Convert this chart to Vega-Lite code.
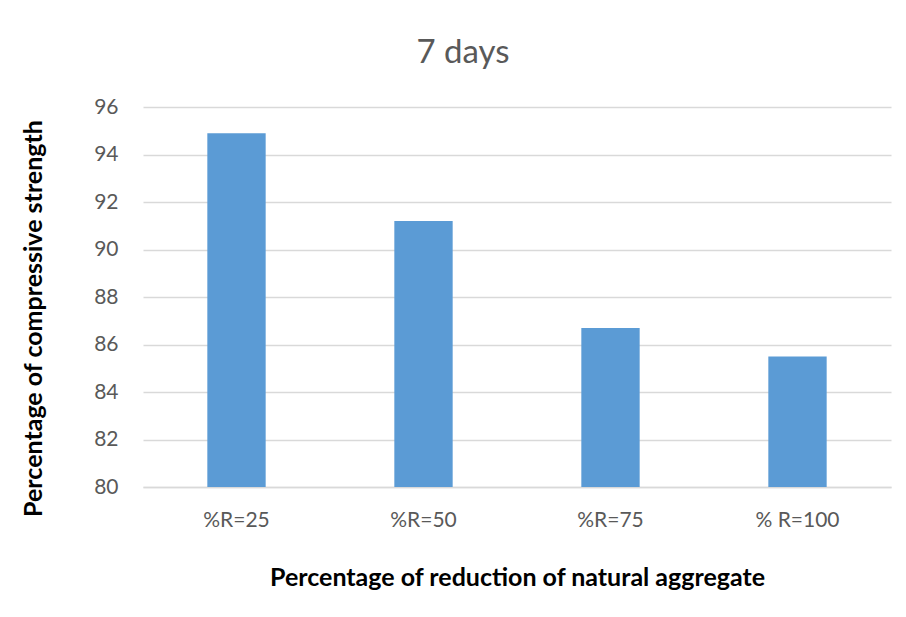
{
  "$schema": "https://vega.github.io/schema/vega-lite/v6.json",
  "autosize": {"type": "none"},
  "width": 748,
  "height": 380,
  "padding": {"left": 143, "top": 107, "right": 15, "bottom": 130},
  "background": "white",
  "title": {
    "text": "7 days",
    "font": "Lato",
    "fontSize": 33,
    "fontWeight": "normal",
    "color": "#595959",
    "anchor": "middle",
    "offset": 26,
    "dx": -54
  },
  "data": {
    "values": [
      {"group": "%R=25", "strength": 94.9},
      {"group": "%R=50", "strength": 91.2},
      {"group": "%R=75", "strength": 86.7},
      {"group": "% R=100", "strength": 85.5}
    ]
  },
  "mark": {"type": "bar", "color": "#5b9bd5", "clip": true},
  "encoding": {
    "x": {
      "field": "group",
      "type": "nominal",
      "sort": null,
      "scale": {"paddingInner": 0.688, "paddingOuter": 0.344},
      "axis": {
        "title": "Percentage of reduction of natural aggregate",
        "labelAngle": 0,
        "labelFont": "Lato",
        "labelFontSize": 21,
        "labelColor": "#595959",
        "labelPadding": 22,
        "ticks": false,
        "domainColor": "#d9d9d9",
        "domainWidth": 1.3,
        "titleFont": "Lato",
        "titleFontSize": 25,
        "titleFontWeight": "bold",
        "titleColor": "#000000",
        "titlePadding": 35
      }
    },
    "y": {
      "field": "strength",
      "type": "quantitative",
      "scale": {"domain": [80, 96], "zero": false, "nice": false},
      "axis": {
        "title": "Percentage of compressive strength",
        "values": [80, 82, 84, 86, 88, 90, 92, 94, 96],
        "labelFont": "Lato",
        "labelFontSize": 21,
        "labelColor": "#595959",
        "labelPadding": 25,
        "ticks": false,
        "domain": false,
        "gridColor": "#d9d9d9",
        "gridWidth": 1.3,
        "titleFont": "Lato",
        "titleFontSize": 25,
        "titleFontWeight": "bold",
        "titleColor": "#000000",
        "titlePadding": 47,
        "titleY": 211
      }
    }
  },
  "config": {"view": {"stroke": null}}
}
